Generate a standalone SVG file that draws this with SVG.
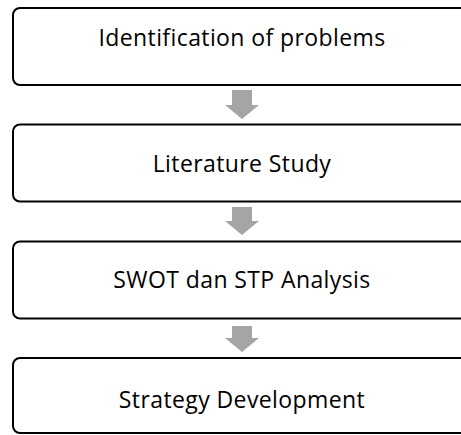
<svg xmlns="http://www.w3.org/2000/svg" width="461" height="435" viewBox="0 0 461 435">
<style>
.box{fill:#fff;stroke:#000;stroke-width:2}
.lbl{font-family:"Open Sans","Liberation Sans",sans-serif;font-size:23px;letter-spacing:0.4px;fill:#000;text-anchor:middle}
.arr{fill:#a5a5a5}
</style>
<rect width="461" height="435" fill="#fff"/>
<g id="n1"><rect class="box" x="13" y="8" width="460" height="77" rx="7"/><text class="lbl" x="242" y="46">Identification of problems</text></g>
<g id="n2"><rect class="box" x="13" y="124.5" width="460" height="77" rx="7"/><text class="lbl" x="242" y="172">Literature Study</text></g>
<g id="n3"><rect class="box" x="13" y="241.5" width="460" height="77" rx="7"/><text class="lbl" x="242" y="288">SWOT dan STP Analysis</text></g>
<g id="n4"><rect class="box" x="13" y="358" width="460" height="75" rx="7"/><text class="lbl" x="242" y="408">Strategy Development</text></g>
<g id="connectors">
<polygon class="arr" points="232,90 252,90 252,105 259,105 242,119 225,105 232,105"/>
<polygon class="arr" points="232,207 252,207 252,221 259,221 242,235 225,221 232,221"/>
<polygon class="arr" points="232,326 252,326 252,338 259,338 242,352 225,338 232,338"/>
</g>
</svg>
